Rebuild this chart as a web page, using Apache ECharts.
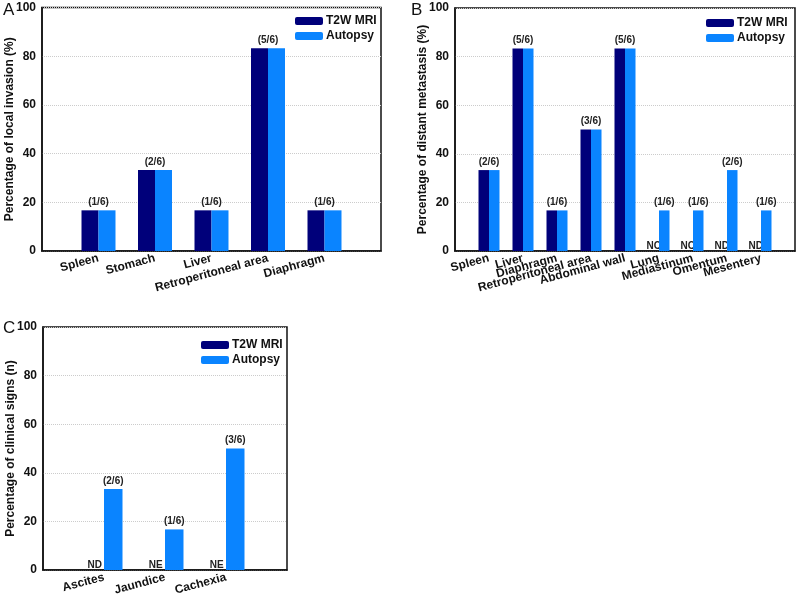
<!DOCTYPE html>
<html><head><meta charset="utf-8">
<script src="https://cdn.jsdelivr.net/npm/echarts@6/dist/echarts.min.js"></script>
<style>html,body{margin:0;padding:0;background:#fff}#c{width:800px;height:603px}</style>
</head><body><div id="c"></div>
<script>
// Panel A: local invasion
const catsA = ['Spleen', 'Stomach', 'Liver', 'Retroperitoneal area', 'Diaphragm'];
const t2wA = [16.7, 33.3, 16.7, 83.3, 16.7];
const autA = [16.7, 33.3, 16.7, 83.3, 16.7];
const fracA = ['(1/6)', '(2/6)', '(1/6)', '(5/6)', '(1/6)'];
const ndA = ['', '', '', '', ''];
// Panel B: distant metastasis
const catsB = ['Spleen', 'Liver', 'Diaphragm', 'Retroperitoneal area', 'Abdominal wall', 'Lung', 'Mediastinum', 'Omentum', 'Mesentery'];
const t2wB = [33.3, 83.3, 16.7, 50, 83.3, 0, 0, 0, 0];
const autB = [33.3, 83.3, 16.7, 50, 83.3, 16.7, 16.7, 33.3, 16.7];
const fracB = ['(2/6)', '(5/6)', '(1/6)', '(3/6)', '(5/6)', '(1/6)', '(1/6)', '(2/6)', '(1/6)'];
const ndB = ['', '', '', '', '', 'NC', 'NC', 'ND', 'ND'];
// Panel C: clinical signs
const catsC = ['Ascites', 'Jaundice', 'Cachexia'];
const t2wC = [0, 0, 0];
const autC = [33.3, 16.7, 50];
const fracC = ['(2/6)', '(1/6)', '(3/6)'];
const ndC = ['ND', 'NE', 'NE'];
const yTicks = [0, 20, 40, 60, 80, 100];

const DARK = '#00007a', LIGHT = '#0a84ff';
const FONT = 'Liberation Sans, Arial, sans-serif';

const chart = echarts.init(document.getElementById('c'));
const grids = [], xAxes = [], yAxes = [], series = [], legends = [];

function panel(idx, cats, t2w, aut, frac, nd, grid, yName, barW, legendPos) {
  grids.push(Object.assign({ show: true, borderColor: '#111', borderWidth: 1.5, backgroundColor: 'transparent' }, grid));
  xAxes.push({
    gridIndex: idx, type: 'category', boundaryGap: false,
    data: [''].concat(cats).concat(['']),
    axisLine: { lineStyle: { color: '#111', width: 1.5 } },
    axisTick: { show: false },
    axisLabel: { interval: 0, rotate: 15, margin: 7, fontFamily: FONT, fontWeight: 'bold', fontSize: 12, color: '#111' },
    splitLine: { show: false }
  });
  yAxes.push({
    gridIndex: idx, type: 'value', min: yTicks[0], max: yTicks[yTicks.length - 1], interval: yTicks[1] - yTicks[0],
    name: yName, nameLocation: 'middle', nameGap: 26, nameMoveOverlap: false,
    nameTextStyle: { fontFamily: FONT, fontWeight: 'bold', fontSize: 12, color: '#111' },
    axisLine: { show: true, lineStyle: { color: '#111', width: 1.5 } },
    axisTick: { show: false },
    axisLabel: { margin: 6, fontFamily: FONT, fontWeight: 'bold', fontSize: 12, color: '#111' },
    splitLine: { show: true, lineStyle: { color: '#cccccc', type: 'dotted', width: 1 } }
  });
  const t2wData = [null].concat(t2w.map((v, i) => ({
    value: v,
    label: { show: !!nd[i], formatter: nd[i] || '', position: 'top', distance: 0 }
  }))).concat([null]);
  const autData = [null].concat(aut.map((v, i) => ({
    value: v,
    label: { show: true, formatter: frac[i], position: 'top', distance: 3, offset: [t2w[i] > 0 ? -barW / 2 : 0, 0] }
  }))).concat([null]);
  const lbl = { fontFamily: FONT, fontWeight: 'bold', fontSize: 10, color: '#222' };
  series.push({
    type: 'bar', name: 'T2W MRI', xAxisIndex: idx, yAxisIndex: idx, data: t2wData,
    barWidth: barW, barGap: '0%', itemStyle: { color: DARK }, label: lbl, z: 2
  });
  series.push({
    type: 'bar', name: 'Autopsy', xAxisIndex: idx, yAxisIndex: idx, data: autData,
    barWidth: barW, barGap: '0%', itemStyle: { color: LIGHT }, label: lbl, z: 3
  });
  legends.push(Object.assign({
    orient: 'vertical', itemWidth: 28, itemHeight: 8, itemGap: 3,
    data: ['T2W MRI', 'Autopsy'],
    textStyle: { fontFamily: FONT, fontWeight: 'bold', fontSize: 12, color: '#111', padding: [0, 0, 0, -2] },
    padding: 0
  }, legendPos));
}

panel(0, catsA, t2wA, autA, fracA, ndA, { left: 42, top: 7.5, width: 339, height: 243.5 },
  'Percentage of local invasion (%)', 17, { left: 295, top: 15 });
panel(1, catsB, t2wB, autB, fracB, ndB, { left: 455, top: 8, width: 340, height: 243 },
  'Percentage of distant metastasis (%)', 10.5, { left: 706, top: 17 });
panel(2, catsC, t2wC, autC, fracC, ndC, { left: 43, top: 327, width: 244, height: 243 },
  'Percentage of clinical signs (n)', 18.5, { left: 201, top: 339 });

chart.setOption({
  animation: false,
  grid: grids, xAxis: xAxes, yAxis: yAxes, series: series, legend: legends,
  graphic: [
    { type: 'text', left: 3, top: 2, style: { text: 'A', fontFamily: FONT, fontSize: 17, fill: '#111' } },
    { type: 'text', left: 411, top: 2, style: { text: 'B', fontFamily: FONT, fontSize: 17, fill: '#111' } },
    { type: 'text', left: 3, top: 320, style: { text: 'C', fontFamily: FONT, fontSize: 17, fill: '#111' } }
  ]
});
</script></body></html>
